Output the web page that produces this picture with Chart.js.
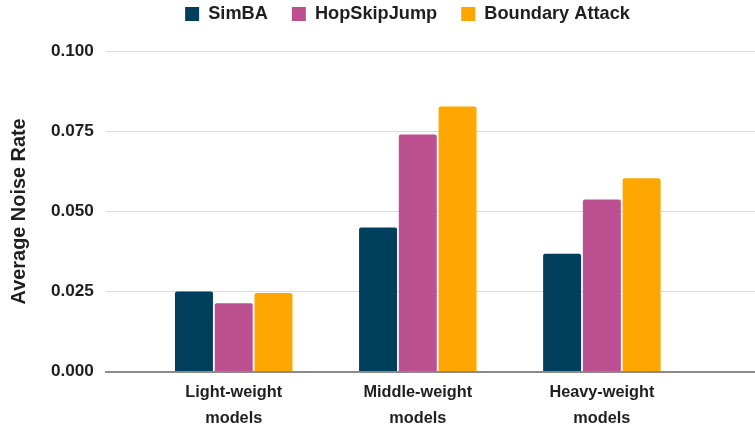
<!DOCTYPE html>
<html>
<head>
<meta charset="utf-8">
<script src="https://cdn.jsdelivr.net/npm/chart.js@4/dist/chart.umd.min.js"></script>
<style>
  html, body { margin: 0; padding: 0; background: #ffffff; }
  #wrap { width: 755px; height: 426px; position: relative; }
</style>
</head>
<body>
<div id="wrap"><canvas id="c"></canvas></div>
<script>
// ---- data ----
const categories = ['Light-weight models', 'Middle-weight models', 'Heavy-weight models'];
const seriesNames = ['SimBA', 'HopSkipJump', 'Boundary Attack'];
const simba = [0.0250, 0.0450, 0.0368];
const hopSkipJump = [0.0213, 0.0740, 0.0537];
const boundaryAttack = [0.0245, 0.0827, 0.0603];
const yTicks = [0, 0.025, 0.05, 0.075, 0.1];

const colors = ['#003f5c', '#bc5090', '#ffa600'];
const FONT = "'Liberation Sans', Arial, sans-serif";

function toPoints(arr) { return arr.map((v, i) => ({ x: i, y: v })); }

// nudge the legend block to sit where the reference has it
const legendTweak = {
  id: 'legendTweak',
  afterLayout(chart) {
    const l = chart.legend;
    if (!l) return;
    l.left += 30; l.right += 30;
    l.top -= 18; l.bottom -= 18;
  }
};

new Chart(document.getElementById('c'), {
  type: 'bar',
  data: {
    datasets: [
      { label: seriesNames[0], data: toPoints(simba), backgroundColor: colors[0] },
      { label: seriesNames[1], data: toPoints(hopSkipJump), backgroundColor: colors[1] },
      { label: seriesNames[2], data: toPoints(boundaryAttack), backgroundColor: colors[2] }
    ]
  },
  options: {
    responsive: true,
    maintainAspectRatio: false,
    animation: false,
    layout: { padding: { top: -1, right: 0, bottom: -13.7, left: 0 } },
    datasets: { bar: { categoryPercentage: 0.648, barPercentage: 0.955, borderRadius: 2 } },
    plugins: {
      legend: {
        position: 'top',
        labels: {
          boxWidth: 14, boxHeight: 14, padding: 24,
          color: '#1f1f1f',
          font: { family: FONT, size: 18.2, weight: 'bold' }
        }
      },
      tooltip: { enabled: false }
    },
    scales: {
      x: {
        type: 'linear',
        offset: false,
        bounds: 'data',
        min: -0.6945,
        max: 2.832,
        grid: { display: false, drawTicks: false },
        border: { display: true, color: '#8a8a8a', width: 2 },
        afterBuildTicks: (scale) => { scale.ticks = categories.map((c, i) => ({ value: i })); },
        ticks: {
          autoSkip: false,
          maxRotation: 0,
          padding: 8,
          color: '#1f1f1f',
          font: { family: FONT, size: 16.3, weight: 'bold', lineHeight: 1.6 },
          callback: (v) => (categories[v] !== undefined) ? categories[v].split(' ') : ''
        }
      },
      y: {
        min: yTicks[0],
        max: yTicks[yTicks.length - 1],
        grid: { color: '#dcdcdc', lineWidth: 1, drawTicks: false },
        border: { display: false },
        afterBuildTicks: (scale) => { scale.ticks = yTicks.map(v => ({ value: v })); },
        ticks: {
          padding: 12,
          color: '#1f1f1f',
          font: { family: FONT, size: 17.2, weight: 'bold' },
          callback: (v) => Number(v).toFixed(3)
        },
        title: {
          display: true,
          text: 'Average Noise Rate',
          color: '#1f1f1f',
          font: { family: FONT, size: 19.9, weight: 'bold', lineHeight: 1.2 },
          padding: { top: 8, bottom: 7 }
        }
      }
    }
  },
  plugins: [legendTweak]
});
</script>
</body>
</html>
